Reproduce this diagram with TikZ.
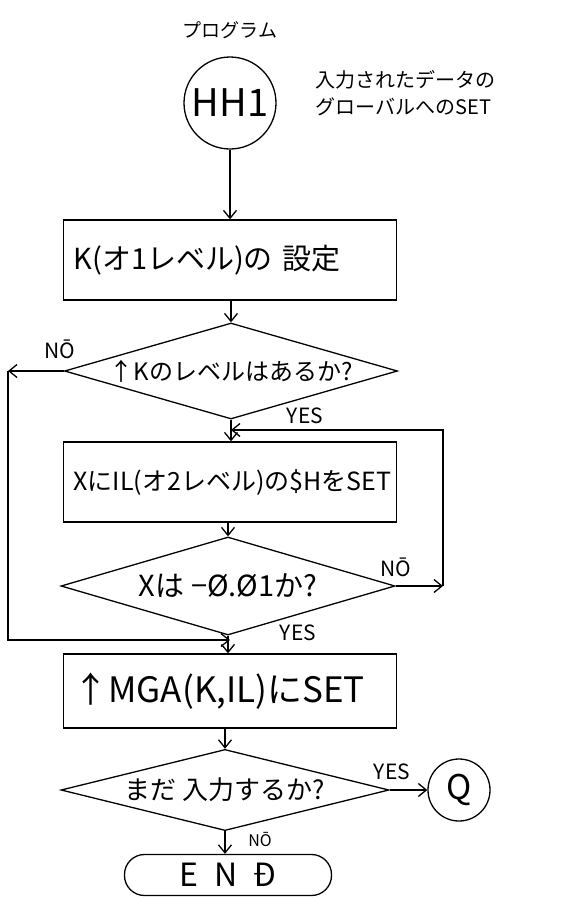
\documentclass[tikz,border=0pt]{standalone}
\usepackage{fontspec}
\setmainfont{Noto Sans CJK JP}
\usetikzlibrary{shapes.geometric,arrows.meta}
\begin{document}
\begin{tikzpicture}[x=1pt,y=-1pt,line width=1.3pt,
    >={Straight Barb[length=8pt,width=13pt]},
    procbox/.style={draw,rectangle,minimum width=333pt,minimum height=80pt,
      text width=313pt,inner xsep=10pt,align=left,font=\fontsize{25}{28}\selectfont},
    decision/.style={draw,diamond,aspect=3.5,inner sep=0pt,font=\fontsize{24}{28}\selectfont},
    lbl/.style={inner sep=0pt,font=\fontsize{21}{22}\selectfont}]
    % Rahmen
    \useasboundingbox (0,0) rectangle (574,898);

    % Start
    \node[font=\fontsize{19}{20}\selectfont] (title) at (230,30) {プログラム};
    \node[draw,circle,minimum size=92pt,inner sep=0pt,font=\fontsize{38}{40}\selectfont] (hh1) at (230,103) {HH1};
    \node[anchor=west,align=left,font=\fontsize{20}{27}\selectfont] (memo) at (312,93) {入力されたデータの\\グローバルへのSET};

    % Kaestchen und Rauten
    \node[procbox,font=\fontsize{29}{32}\selectfont] (k1) at (230,260) {K(オ1レベル)の 設定};
    \node[decision,minimum width=333pt,minimum height=96pt] (d1) at (231,371) {↑Kのレベルはあるか?};
    \node[procbox] (x2) at (230,482) {XにIL(オ2レベル)の\$HをSET};
    \node[decision,minimum width=334pt,minimum height=98pt,font=\fontsize{29}{30}\selectfont] (d2) at (228,586) {Xは −Ø.Ø1か?};
    \node[procbox,minimum height=74pt,font=\fontsize{35}{38}\selectfont] (m3) at (230,691) {↑MGA(K,IL)にSET};
    \node[decision,minimum width=328pt,minimum height=78pt,font=\fontsize{26}{28}\selectfont] (d3) at (225,790) {まだ 入力するか?};
    \node[draw,circle,minimum size=62pt,inner sep=0pt,font=\fontsize{34}{36}\selectfont] (q) at (459,790) {Q};
    \node[draw,rounded corners=20pt,minimum width=207pt,minimum height=41pt,font=\fontsize{32}{34}\selectfont] (fin) at (228,875) {E\enspace N\enspace Đ};

    % Hilfspunkte der Schleifen
    \coordinate (lt) at (8,371);
    \coordinate (lb) at (8,640);
    \coordinate (lj) at (230,640);
    \coordinate (rb) at (443,586);
    \coordinate (rt) at (443,430);
    \coordinate (rj) at (231,430);

    % Pfeile
    \draw[->] (hh1.south) -- (hh1.south |- k1.north);
    \draw[->] (k1.south -| d1.north) -- (d1.north);
    \draw[->] (d1.south) -- (d1.south |- x2.north);
    \draw[->] (x2.south -| d2.north) -- (d2.north);
    \draw[->] (d2.south) -- (d2.south |- m3.north);
    \draw[->] (m3.south -| d3.north) -- (d3.north);
    \draw[->] (d3.south) -- (d3.south |- fin.north);
    \draw[->] (d3.east) -- (q.west);
    \draw[->] (d1.west) -- (lt);
    \draw[->] (lt) -- (lb) -- (lj);
    \draw[->] (d2.east) -- (rb);
    \draw[->] (rb) -- (rt) -- (rj);

    % Beschriftungen
    \node[lbl] (no1) at (60,349) {NŌ};
    \node[lbl] (yes1) at (305,416) {YES};
    \node[lbl] (no2) at (396,567) {NŌ};
    \node[lbl] (yes2) at (298,633) {YES};
    \node[lbl] (yes3) at (392,772) {YES};
    \node[lbl,font=\fontsize{16}{17}\selectfont] (no3) at (260,840) {NŌ};
\end{tikzpicture}
\end{document}
